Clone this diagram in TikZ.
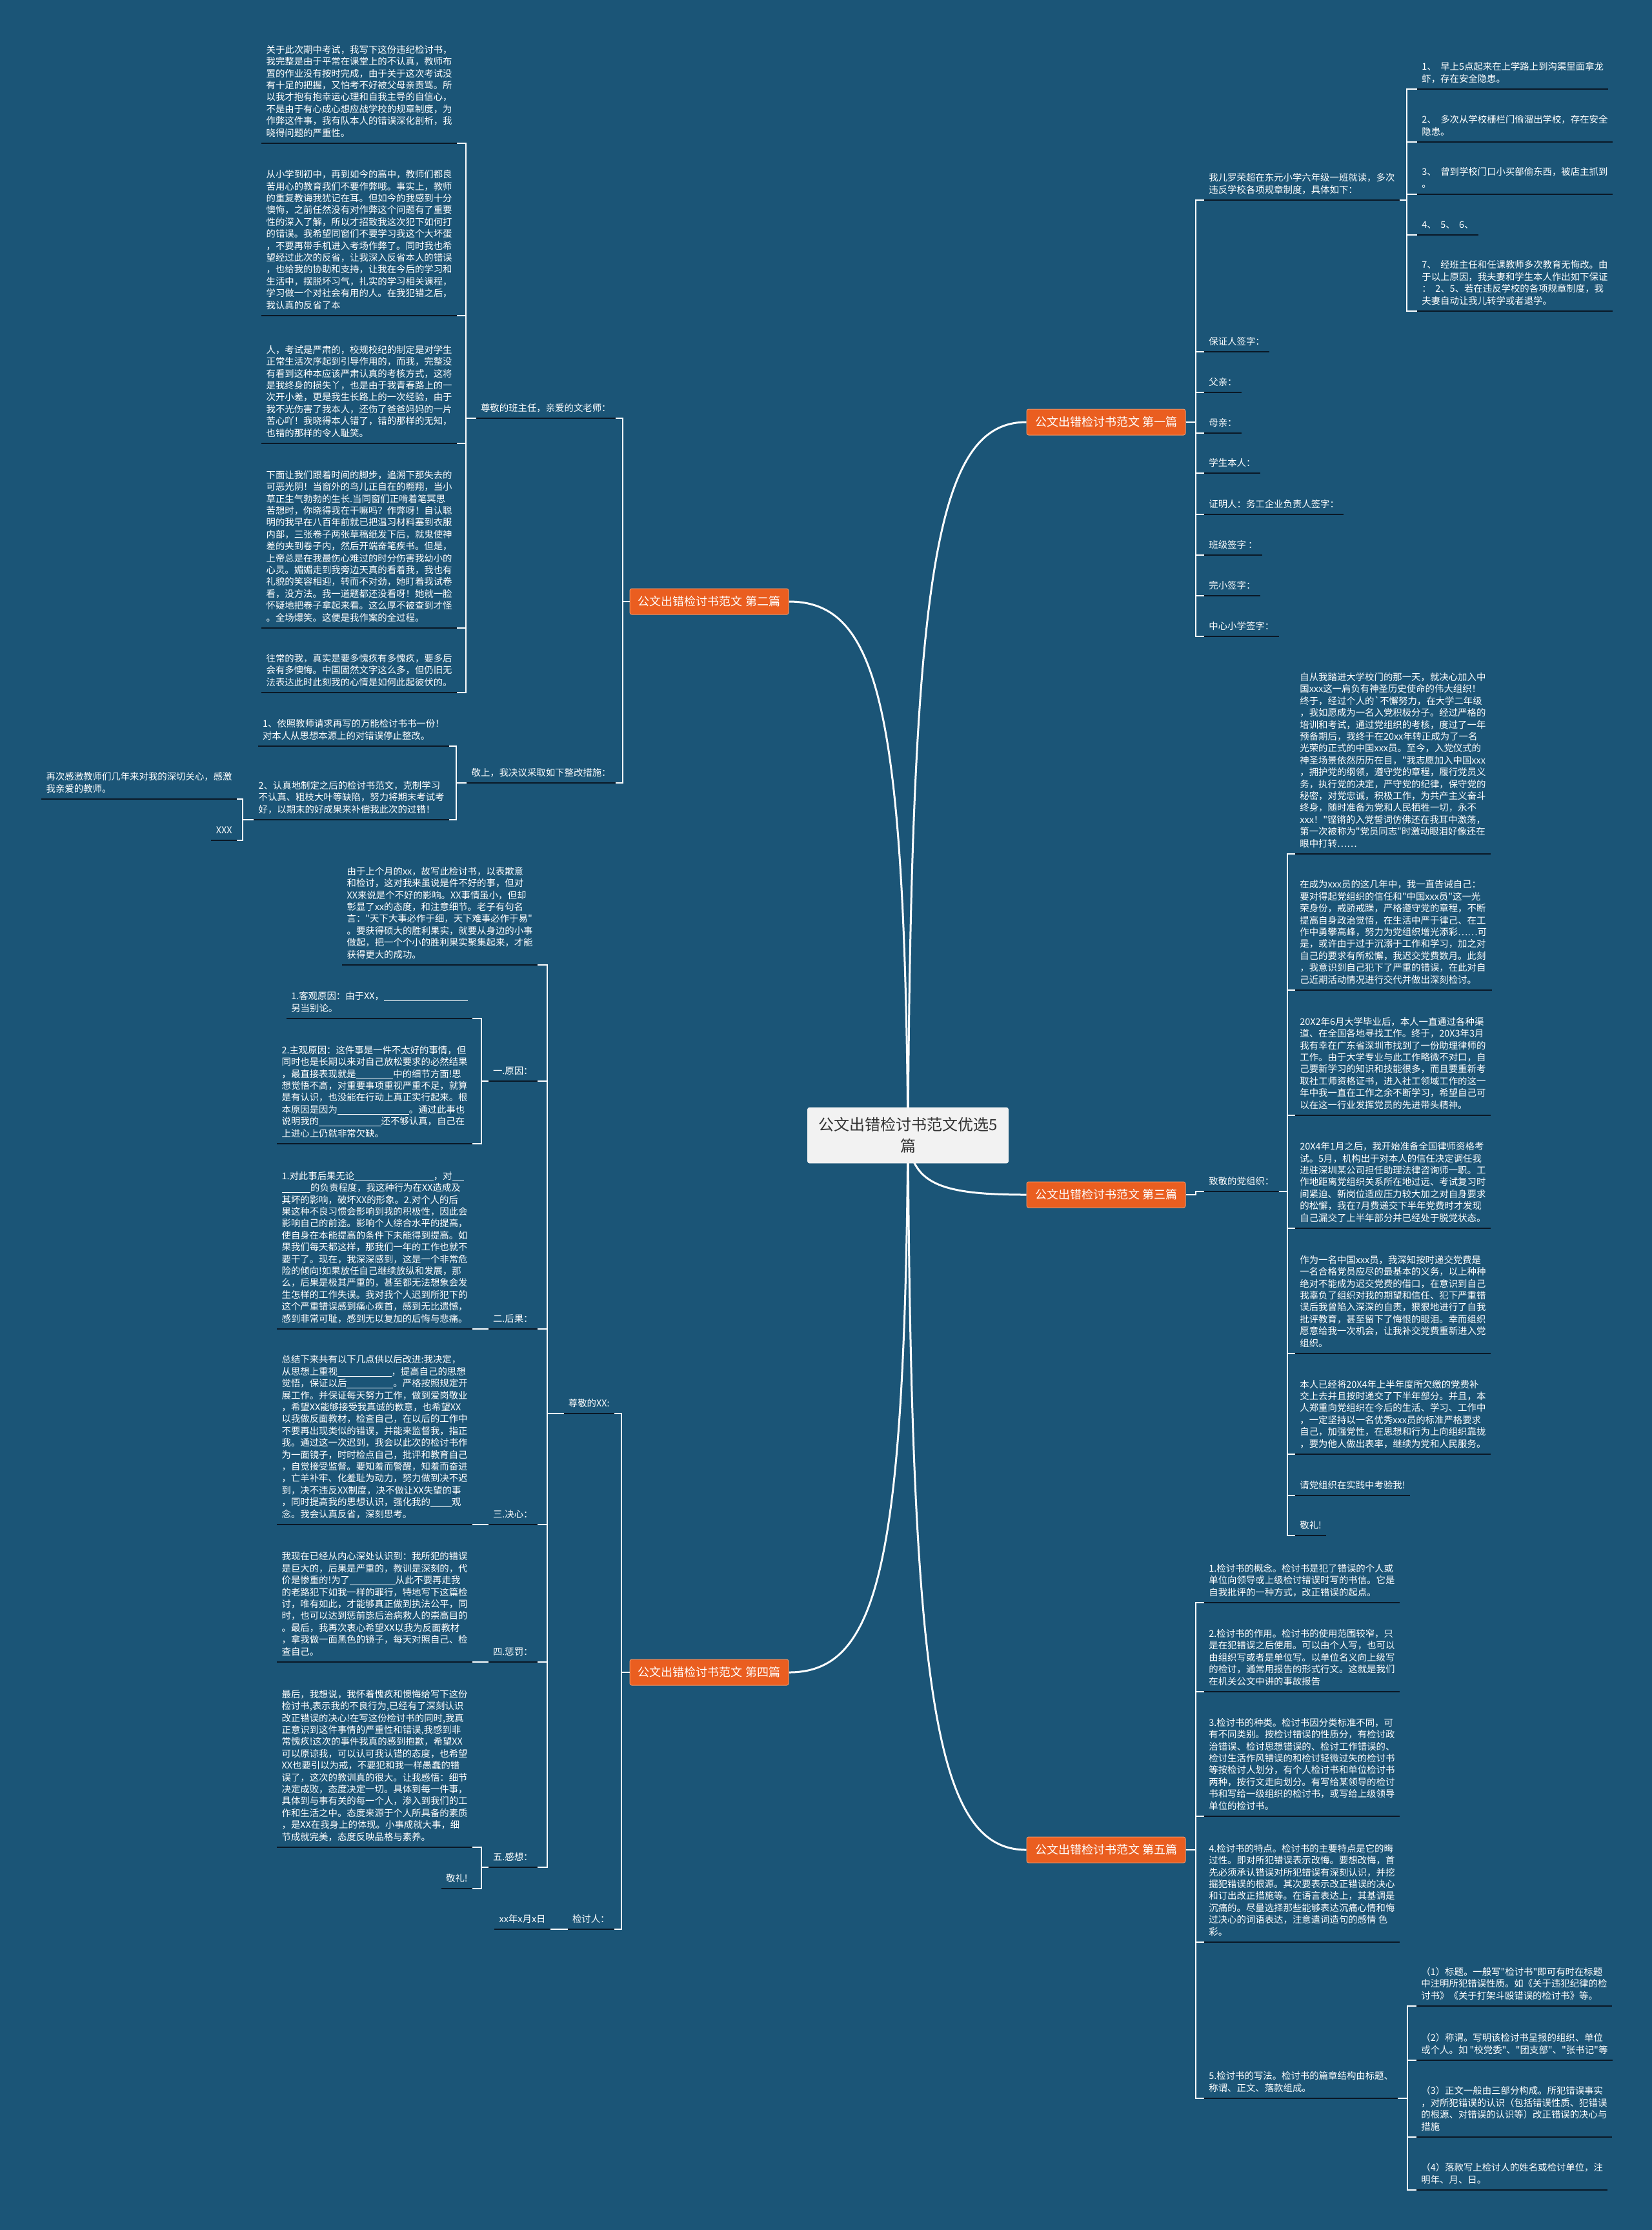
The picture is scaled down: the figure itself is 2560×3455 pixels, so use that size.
\documentclass[tikz,border=0pt]{standalone}
\usepackage{fontspec}
\setmainfont{Noto Sans CJK SC}
\newfontfamily\cjkf{Noto Sans CJK SC}
\usetikzlibrary{calc}
\definecolor{bgc}{RGB}{27,85,119}
\definecolor{orc}{RGB}{234,94,32}
\definecolor{orl}{RGB}{246,150,100}
\definecolor{ulc}{RGB}{10,24,38}
\definecolor{ctext}{RGB}{51,51,51}
\definecolor{cfill}{RGB}{242,242,242}
\pgfdeclarelayer{bglayer}
\pgfdeclarelayer{edgelayer}
\pgfsetlayers{bglayer,edgelayer,main}
\newcommand\mytab[1]{\begin{tabular}{@{}l@{}}#1\end{tabular}}
\newcommand\blk[1]{\rule[-1.2pt]{#1}{0.5pt}}
\newcommand\leafR[4]{\node[leaf,anchor=south west] (#1) at (#2,#3) {\mytab{#4}};\draw[ul] (#1.south west) -- (#1.south east);}
\newcommand\leafL[4]{\node[leaf,anchor=south east] (#1) at (#2,#3) {\mytab{#4}};\draw[ul] (#1.south west) -- (#1.south east);}
\begin{document}
\begin{tikzpicture}[x=0.5pt,y=-0.5pt,
  leaf/.style={font=\cjkf\fontsize{7.2pt}{9.2pt}\selectfont, text=white, inner xsep=3.5pt, inner ysep=2.5pt},
  ul/.style={draw=ulc, line width=1.2pt},
  br/.style={draw=white, line width=1.2pt},
  curve/.style={draw=white, line width=1.5pt},
  mainnode/.style={fill=orc, draw=orl, line width=0.5pt, rounded corners=1.5pt, text=white, font=\cjkf\fontsize{9pt}{11pt}\selectfont, minimum width=123pt, minimum height=20pt, inner sep=0pt},
  centre/.style={fill=cfill, draw=cfill, rounded corners=1.5pt, text=ctext, font=\cjkf\fontsize{12pt}{16.5pt}\selectfont, align=center, minimum width=155.5pt, minimum height=43pt, inner sep=0pt}]
\begin{pgfonlayer}{bglayer}
\fill[bgc] (0,0) rectangle (2560,3455);
\end{pgfonlayer}
\useasboundingbox (0,0) rectangle (2560,3455);

% bracket x positions
\coordinate (B1) at (1853,0);
\coordinate (Ba) at (2180,0);
\coordinate (B2) at (965,0);
\coordinate (BA) at (722,0);
\coordinate (BK) at (707,0);
\coordinate (BKt) at (376,0);
\coordinate (B3) at (1853,0);
\coordinate (Bz) at (1995,0);
\coordinate (B4) at (963,0);
\coordinate (BW) at (848,0);
\coordinate (BYa) at (746,0);
\coordinate (BYe) at (746,0);
\coordinate (B5) at (1853,0);
\coordinate (Bf) at (2181,0);

% centre and main nodes
\node[centre] (c) at (1407,1759) {公文出错检讨书范文优选5\\篇};
\node[mainnode] (m1) at (1714,654) {公文出错检讨书范文 第一篇};
\node[mainnode] (m2) at (1099,932) {公文出错检讨书范文 第二篇};
\node[mainnode] (m3) at (1714,1851) {公文出错检讨书范文 第三篇};
\node[mainnode] (m4) at (1099,2591) {公文出错检讨书范文 第四篇};
\node[mainnode] (m5) at (1714,2866) {公文出错检讨书范文 第五篇};

\begin{pgfonlayer}{edgelayer}
\draw[curve] (c.center) .. controls (1412,875) and (1453,654) .. (m1.west);
\draw[curve] (c.center) .. controls (1402,1097) and (1361,932) .. (m2.east);
\draw[curve] (c.center) .. controls (1412,1833) and (1453,1851) .. (m3.west);
\draw[curve] (c.center) .. controls (1402,2425) and (1361,2591) .. (m4.east);
\draw[curve] (c.center) .. controls (1412,2645) and (1453,2866) .. (m5.west);
\end{pgfonlayer}

% ===== Branch 1 =====
\leafR{a}{1866}{310}{我儿罗荣超在东元小学六年级一班就读，多次\\违反学校各项规章制度，具体如下：}
\leafR{a1}{2196}{138}{1、~ 早上5点起来在上学路上到沟渠里面拿龙\\虾，存在安全隐患。}
\leafR{a2}{2196}{220}{2、~ 多次从学校栅栏门偷溜出学校，存在安全\\隐患。}
\leafR{a3}{2196}{301}{3、~ 曾到学校门口小买部偷东西，被店主抓到\\。}
\leafR{a4}{2196}{364}{4、~ 5、~ 6、}
\leafR{a7}{2196}{482}{7、~ 经班主任和任课教师多次教育无悔改。由\\于以上原因，我夫妻和学生本人作出如下保证\\：~ 2、5、若在违反学校的各项规章制度，我\\夫妻自动让我儿转学或者退学。}
\leafR{s1}{1866}{545}{保证人签字：}
\leafR{s2}{1866}{608}{父亲：}
\leafR{s3}{1866}{671}{母亲：}
\leafR{s4}{1866}{733}{学生本人：}
\leafR{s5}{1866}{797}{证明人：务工企业负责人签字：}
\leafR{s6}{1866}{860}{班级签字 ：}
\leafR{s7}{1866}{923}{完小签字：}
\leafR{s8}{1866}{986}{中心小学签字：}
\foreach \n in {a,s1,s2,s3,s4,s5,s6,s7,s8} {\draw[br] (m1.east) -- (m1.east -| B1) |- (\n.south west);}
\foreach \n in {a1,a2,a3,a4,a7} {\draw[br] (a.south east) -- (a.south east -| Ba) |- (\n.south west);}

% ===== Branch 2 =====
\leafL{A}{954}{648}{尊敬的班主任，亲爱的文老师：}
\leafL{K}{954}{1213}{敬上，我决议采取如下整改措施：}
\foreach \n in {A,K} {\draw[br] (m2.west) -- (m2.west -| B2) |- (\n.south east);}
\leafL{A1}{708}{222}{关于此次期中考试，我写下这份违纪检讨书，\\我完整是由于平常在课堂上的不认真，教师布\\置的作业没有按时完成，由于关于这次考试没\\有十足的把握，又怕考不好被父母亲责骂。所\\以我才抱有抱幸运心理和自我主导的自信心，\\不是由于有心成心想应战学校的规章制度，为\\作弊这件事，我有队本人的错误深化剖析，我\\晓得问题的严重性。}
\leafL{A2}{708}{489}{从小学到初中，再到如今的高中，教师们都良\\苦用心的教育我们不要作弊哦。事实上，教师\\的重复教诲我犹记在耳。但如今的我感到十分\\懊悔，之前任然没有对作弊这个问题有了重要\\性的深入了解，所以才招致我这次犯下如何打\\的错误。我希望同窗们不要学习我这个大坏蛋\\，不要再带手机进入考场作弊了。同时我也希\\望经过此次的反省，让我深入反省本人的错误\\，也给我的协助和支持，让我在今后的学习和\\生活中，摆脱坏习气，扎实的学习相关课程，\\学习做一个对社会有用的人。在我犯错之后，\\我认真的反省了本}
\leafL{A3}{708}{687}{人，考试是严肃的，校规校纪的制定是对学生\\正常生活次序起到引导作用的，而我，完整没\\有看到这种本应该严肃认真的考核方式，这将\\是我终身的损失丫，也是由于我青春路上的一\\次开小差，更是我生长路上的一次经验，由于\\我不光伤害了我本人，还伤了爸爸妈妈的一片\\苦心吖！我晓得本人错了，错的那样的无知，\\也错的那样的令人耻笑。}
\leafL{A4}{708}{973}{下面让我们跟着时间的脚步，追溯下那失去的\\可恶光阴！当窗外的鸟儿正自在的翱翔，当小\\草正生气勃勃的生长.当同窗们正啃着笔冥思\\苦想时，你晓得我在干嘛吗？作弊呀！自认聪\\明的我早在八百年前就已把温习材料塞到衣服\\内部，三张卷子两张草稿纸发下后，就鬼使神\\差的夹到卷子内，然后开端奋笔疾书。但是，\\上帝总是在我最伤心难过的时分伤害我幼小的\\心灵。媚媚走到我旁边天真的看着我，我也有\\礼貌的笑容相迎，转而不对劲，她盯着我试卷\\看，没方法。我一道题都还没看呀！她就一脸\\怀疑地把卷子拿起来看。这么厚不被查到才怪\\。全场爆笑。这便是我作案的全过程。}
\leafL{A5}{708}{1073}{往常的我，真实是要多愧疚有多愧疚，要多后\\会有多懊悔。中国固然文字这么多，但仍旧无\\法表达此时此刻我的心情是如何此起彼伏的。}
\foreach \n in {A1,A2,A3,A4,A5} {\draw[br] (A.south west) -- (A.south west -| BA) |- (\n.south east);}
\leafL{K1}{696}{1156}{1、依照教师请求再写的万能检讨书书一份！\\对本人从思想本源上的对错误停止整改。}
\leafL{K2}{696}{1270}{2、认真地制定之后的检讨书范文，克制学习\\不认真、粗枝大叶等缺陷，努力将期末考试考\\好，以期末的好成果来补偿我此次的过错！}
\foreach \n in {K1,K2} {\draw[br] (K.south west) -- (K.south west -| BK) |- (\n.south east);}
\leafL{Ka}{367}{1238}{再次感激教师们几年来对我的深切关心，感激\\我亲爱的教师。}
\leafL{Kb}{367}{1302}{XXX}
\foreach \n in {Ka,Kb} {\draw[br] (K2.south west) -- (K2.south west -| BKt) |- (\n.south east);}

% ===== Branch 3 =====
\leafR{z}{1866}{1846}{致敬的党组织：}
\draw[br] (m3.east) -- (m3.east -| B3) |- (z.south west);
\leafR{z1}{2007}{1323}{自从我踏进大学校门的那一天，就决心加入中\\国xxx这一肩负有神圣历史使命的伟大组织！\\终于，经过个人的`不懈努力，在大学二年级\\，我如愿成为一名入党积极分子。经过严格的\\培训和考试，通过党组织的考核，度过了一年\\预备期后，我终于在20xx年转正成为了一名\\光荣的正式的中国xxx员。至今，入党仪式的\\神圣场景依然历历在目，"我志愿加入中国xxx\\，拥护党的纲领，遵守党的章程，履行党员义\\务，执行党的决定，严守党的纪律，保守党的\\秘密，对党忠诚，积极工作，为共产主义奋斗\\终身，随时准备为党和人民牺牲一切，永不\\xxx！"铿锵的入党誓词仿佛还在我耳中激荡，\\第一次被称为"党员同志"时激动眼泪好像还在\\眼中打转……}
\leafR{z2}{2007}{1534}{在成为xxx员的这几年中，我一直告诫自己：\\要对得起党组织的信任和"中国xxx员"这一光\\荣身份，戒骄戒躁，严格遵守党的章程，不断\\提高自身政治觉悟，在生活中严于律己、在工\\作中勇攀高峰，努力为党组织增光添彩……可\\是，或许由于过于沉溺于工作和学习，加之对\\自己的要求有所松懈，我迟交党费数月。此刻\\，我意识到自己犯下了严重的错误，在此对自\\己近期活动情况进行交代并做出深刻检讨。}
\leafR{z3}{2007}{1728}{20X2年6月大学毕业后，本人一直通过各种渠\\道、在全国各地寻找工作。终于，20X3年3月\\我有幸在广东省深圳市找到了一份助理律师的\\工作。由于大学专业与此工作略微不对口，自\\己要新学习的知识和技能很多，而且要重新考\\取社工师资格证书，进入社工领域工作的这一\\年中我一直在工作之余不断学习，希望自己可\\以在这一行业发挥党员的先进带头精神。}
\leafR{z4}{2007}{1903}{20X4年1月之后，我开始准备全国律师资格考\\试。5月，机构出于对本人的信任决定调任我\\进驻深圳某公司担任助理法律咨询师一职。工\\作地距离党组织关系所在地过远、考试复习时\\间紧迫、新岗位适应压力较大加之对自身要求\\的松懈，我在7月费递交下半年党费时才发现\\自己漏交了上半年部分并已经处于脱党状态。}
\leafR{z5}{2007}{2097}{作为一名中国xxx员，我深知按时递交党费是\\一名合格党员应尽的最基本的义务，以上种种\\绝对不能成为迟交党费的借口，在意识到自己\\我辜负了组织对我的期望和信任、犯下严重错\\误后我曾陷入深深的自责，狠狠地进行了自我\\批评教育，甚至留下了悔恨的眼泪。幸而组织\\愿意给我一次机会，让我补交党费重新进入党\\组织。}
\leafR{z6}{2007}{2253}{本人已经将20X4年上半年度所欠缴的党费补\\交上去并且按时递交了下半年部分。并且，本\\人郑重向党组织在今后的生活、学习、工作中\\，一定坚持以一名优秀xxx员的标准严格要求\\自己，加强党性，在思想和行为上向组织靠拢\\，要为他人做出表率，继续为党和人民服务。}
\leafR{z7}{2007}{2317}{请党组织在实践中考验我!}
\leafR{z8}{2007}{2379}{敬礼!}
\foreach \n in {z1,z2,z3,z4,z5,z6,z7,z8} {\draw[br] (z.south east) -- (z.south east -| Bz) |- (\n.south west);}

% ===== Branch 4 =====
\leafL{W}{952}{2190}{尊敬的XX:}
\leafL{V}{952}{2989}{检讨人：}
\foreach \n in {W,V} {\draw[br] (m4.west) -- (m4.west -| B4) |- (\n.south east);}
\leafL{W0}{833}{1495}{由于上个月的xx，故写此检讨书，以表歉意\\和检讨，这对我来虽说是件不好的事，但对\\XX来说是个不好的影响。XX事情虽小，但却\\彰显了xx的态度，和注意细节。老子有句名\\言："天下大事必作于细，天下难事必作于易"\\。要获得硕大的胜利果实，就要从身边的小事\\做起，把一个个小的胜利果实聚集起来，才能\\获得更大的成功。}
\leafL{Y1}{833}{1675}{一.原因：}
\leafL{Y2}{833}{2059}{二.后果：}
\leafL{Y3}{833}{2362}{三.决心：}
\leafL{Y4}{833}{2575}{四.惩罚：}
\leafL{Y5}{833}{2893}{五.感想：}
\foreach \n in {W0,Y1,Y2,Y3,Y4,Y5} {\draw[br] (W.south west) -- (W.south west -| BW) |- (\n.south east);}
\leafL{Ya}{732}{1578}{1.客观原因：由于XX，\blk{9em}\\另当别论。}
\leafL{Yb}{732}{1772}{2.主观原因：这件事是一件不太好的事情，但\\同时也是长期以来对自己放松要求的必然结果\\，最直接表现就是\blk{4em}中的细节方面!思\\想觉悟不高，对重要事项重视严重不足，就算\\是有认识，也没能在行动上真正实行起来。根\\本原因是因为\blk{7.7em}。通过此事也\\说明我的\blk{6.7em}还不够认真，自己在\\上进心上仍就非常欠缺。}
\foreach \n in {Ya,Yb} {\draw[br] (Y1.south west) -- (Y1.south west -| BYa) |- (\n.south east);}
\leafL{Yc}{732}{2059}{1.对此事后果无论\blk{8.5em}，对\blk{1.3em}\\\blk{3.1em}的负责程度，我这种行为在XX造成及\\其坏的影响，破坏XX的形象。2.对个人的后\\果这种不良习惯会影响到我的积极性，因此会\\影响自己的前途。影响个人综合水平的提高，\\使自身在本能提高的条件下未能得到提高。如\\果我们每天都这样，那我们一年的工作也就不\\要干了。现在，我深深感到，这是一个非常危\\险的倾向!如果放任自己继续放纵和发展，那\\么，后果是极其严重的，甚至都无法想象会发\\生怎样的工作失误。我对我个人迟到所犯下的\\这个严重错误感到痛心疾首，感到无比遗憾，\\感到非常可耻，感到无以复加的后悔与悲痛。}
\draw[br] (Y2.south west) -- (Yc.south east);
\leafL{Yd}{732}{2362}{总结下来共有以下几点供以后改进:我决定，\\从思想上重视\blk{5.8em}，提高自己的思想\\觉悟，保证以后\blk{5em}。严格按照规定开\\展工作。并保证每天努力工作，做到爱岗敬业\\，希望XX能够接受我真诚的歉意，也希望XX\\以我做反面教材，检查自己，在以后的工作中\\不要再出现类似的错误，并能来监督我，指正\\我。通过这一次迟到，我会以此次的检讨书作\\为一面镜子，时时检点自己，批评和教育自己\\，自觉接受监督。要知羞而警醒，知羞而奋进\\，亡羊补牢、化羞耻为动力，努力做到决不迟\\到，决不违反XX制度，决不做让XX失望的事\\，同时提高我的思想认识，强化我的\blk{2.3em}观\\念。我会认真反省，深刻思考。}
\draw[br] (Y3.south west) -- (Yd.south east);
\leafL{Ye}{732}{2575}{我现在已经从内心深处认识到：我所犯的错误\\是巨大的，后果是严重的，教训是深刻的，代\\价是惨重的!为了\blk{4.9em}从此不要再走我\\的老路犯下如我一样的罪行，特地写下这篇检\\讨，唯有如此，才能够真正做到执法公平，同\\时，也可以达到惩前毖后治病救人的崇高目的\\。最后，我再次衷心希望XX以我为反面教材\\，拿我做一面黑色的镜子，每天对照自己、检\\查自己。}
\draw[br] (Y4.south west) -- (Ye.south east);
\leafL{Yf}{732}{2862}{最后，我想说，我怀着愧疚和懊悔给写下这份\\检讨书,表示我的不良行为,已经有了深刻认识\\改正错误的决心!在写这份检讨书的同时,我真\\正意识到这件事情的严重性和错误,我感到非\\常愧疚!这次的事件我真的感到抱歉，希望XX\\可以原谅我，可以认可我认错的态度，也希望\\XX也要引以为戒，不要犯和我一样愚蠢的错\\误了，这次的教训真的很大。让我感悟：细节\\决定成败，态度决定一切。具体到每一件事，\\具体到与事有关的每一个人，渗入到我们的工\\作和生活之中。态度来源于个人所具备的素质\\，是XX在我身上的体现。小事成就大事，细\\节成就完美，态度反映品格与素养。}
\leafL{Yg}{732}{2926}{敬礼!}
\foreach \n in {Yf,Yg} {\draw[br] (Y5.south west) -- (Y5.south west -| BYe) |- (\n.south east);}
\leafL{V1}{853}{2989}{xx年x月x日}
\draw[br] (V.south west) -- (V1.south east);

% ===== Branch 5 =====
\leafR{f1}{1866}{2483}{1.检讨书的概念。检讨书是犯了错误的个人或\\单位向领导或上级检讨错误时写的书信。它是\\自我批评的一种方式，改正错误的起点。}
\leafR{f2}{1866}{2621}{2.检讨书的作用。检讨书的使用范围较窄，只\\是在犯错误之后使用。可以由个人写，也可以\\由组织写或者是单位写。以单位名义向上级写\\的检讨，通常用报告的形式行文。这就是我们\\在机关公文中讲的事故报告}
\leafR{f3}{1866}{2814}{3.检讨书的种类。检讨书因分类标准不同，可\\有不同类别。按检讨错误的性质分，有检讨政\\治错误、检讨思想错误的、检讨工作错误的、\\检讨生活作风错误的和检讨轻微过失的检讨书\\等按检讨人划分，有个人检讨书和单位检讨书\\两种，按行文走向划分。有写给某领导的检讨\\书和写给一级组织的检讨书，或写给上级领导\\单位的检讨书。}
\leafR{f4}{1866}{3009}{4.检讨书的特点。检讨书的主要特点是它的晦\\过性。即对所犯错误表示改悔。要想改悔，首\\先必须承认错误对所犯错误有深刻认识，并挖\\掘犯错误的根源。其次要表示改正错误的决心\\和订出改正措施等。在语言表达上，其基调是\\沉痛的。尽量选择那些能够表达沉痛心情和悔\\过决心的词语表达，注意遣词造句的感情 色\\彩。}
\leafR{f5}{1866}{3251}{5.检讨书的写法。检讨书的篇章结构由标题、\\称谓、正文、落款组成。}
\foreach \n in {f1,f2,f3,f4,f5} {\draw[br] (m5.east) -- (m5.east -| B5) |- (\n.south west);}
\leafR{p1}{2195}{3108}{（1）标题。一般写"检讨书"即可有时在标题\\中注明所犯错误性质。如《关于违犯纪律的检\\讨书》《关于打架斗殴错误的检讨书》等。}
\leafR{p2}{2195}{3192}{（2）称谓。写明该检讨书呈报的组织、单位\\或个人。如 "校党委"、"团支部"、"张书记"等}
\leafR{p3}{2195}{3311}{（3）正文一般由三部分构成。所犯错误事实\\，对所犯错误的认识（包括错误性质、犯错误\\的根源、对错误的认识等）改正错误的决心与\\措施}
\leafR{p4}{2195}{3393}{（4）落款写上检讨人的姓名或检讨单位，注\\明年、月、日。}
\foreach \n in {p1,p2,p3,p4} {\draw[br] (f5.south east) -- (f5.south east -| Bf) |- (\n.south west);}
\end{tikzpicture}
\end{document}
